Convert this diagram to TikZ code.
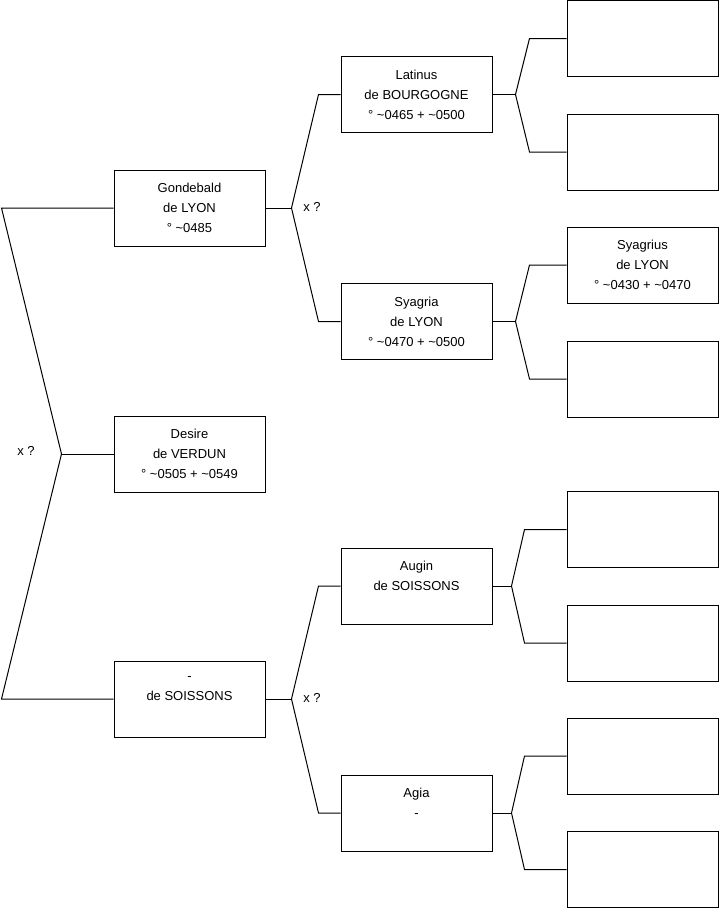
\documentclass[tikz,border=0pt]{standalone}
\usepackage{fontspec}
\setmainfont{Liberation Sans}
\usetikzlibrary{positioning, calc}

\begin{document}
\begin{tikzpicture}[x=1pt, y=-1pt,
  person/.style={rectangle,draw,line width=1pt,minimum width=151pt,
                 minimum height=76pt,inner sep=0pt,align=center,
                 font=\fontsize{13}{20}\selectfont},
  link/.style={line width=1pt},
  xq/.style={inner sep=0pt,font=\fontsize{13}{20}\selectfont}
]
\useasboundingbox (0,0) rectangle (719,908);

\node[person] (gond) at (189.5,208) {Gondebald\\ de LYON\\ ° \textasciitilde 0485};
\node[person] (des)  at (189.5,454) {Desire\\ de VERDUN\\ ° \textasciitilde 0505 + \textasciitilde 0549};
\node[person] (soi)  at (189.5,699) {-\\ de SOISSONS\\ \mbox{}};

\node[person] (lat) at (416.5,94.5)  {Latinus\\ de BOURGOGNE\\ ° \textasciitilde 0465 + \textasciitilde 0500};
\node[person] (sya) at (416.5,321.5) {Syagria\\ de LYON\\ ° \textasciitilde 0470 + \textasciitilde 0500};
\node[person] (aug) at (416.5,586)   {Augin\\ de SOISSONS\\ \mbox{}};
\node[person] (agi) at (416.5,813)   {Agia\\ -\\ \mbox{}};

\node[person] (lat1) at (642.5,38.5) {};
\node[person] (lat2) at (642.5,152)  {};
\node[person] (sya1) at (642.5,265)  {Syagrius\\ de LYON\\ ° \textasciitilde 0430 + \textasciitilde 0470};
\node[person] (sya2) at (642.5,379)  {};
\node[person] (aug1) at (642.5,529.5) {};
\node[person] (aug2) at (642.5,643)  {};
\node[person] (agi1) at (642.5,756)  {};
\node[person] (agi2) at (642.5,869.5) {};

\node[xq] (xdes)  at (26,451)  {x ?};
\node[xq] (xgond) at (312,207) {x ?};
\node[xq] (xsoi)  at (312,698) {x ?};

\coordinate (vdes)  at ($(des.west)+(-52,0)$);
\coordinate (vgond) at ($(gond.east)+(26,0)$);
\coordinate (vsoi)  at ($(soi.east)+(26,0)$);
\coordinate (vlat)  at ($(lat.east)+(23,0)$);
\coordinate (vsya)  at ($(sya.east)+(23,0)$);
\coordinate (vaug)  at ($(aug.east)+(19,0)$);
\coordinate (vagi)  at ($(agi.east)+(19,0)$);

\draw[link] (des.west) -- (vdes);
\draw[link] (vdes) -- ([xshift=-112pt]gond.west) -- (gond.west);
\draw[link] (vdes) -- ([xshift=-112pt]soi.west) -- (soi.west);

\draw[link] (gond.east) -- (vgond);
\draw[link] (vgond) -- ([xshift=-22pt]lat.west) -- (lat.west);
\draw[link] (vgond) -- ([xshift=-22pt]sya.west) -- (sya.west);
\draw[link] (soi.east) -- (vsoi);
\draw[link] (vsoi) -- ([xshift=-22pt]aug.west) -- (aug.west);
\draw[link] (vsoi) -- ([xshift=-22pt]agi.west) -- (agi.west);

\draw[link] (lat.east) -- (vlat);
\draw[link] (vlat) -- ([xshift=-37pt]lat1.west) -- (lat1.west);
\draw[link] (vlat) -- ([xshift=-37pt]lat2.west) -- (lat2.west);
\draw[link] (sya.east) -- (vsya);
\draw[link] (vsya) -- ([xshift=-37pt]sya1.west) -- (sya1.west);
\draw[link] (vsya) -- ([xshift=-37pt]sya2.west) -- (sya2.west);
\draw[link] (aug.east) -- (vaug);
\draw[link] (vaug) -- ([xshift=-42pt]aug1.west) -- (aug1.west);
\draw[link] (vaug) -- ([xshift=-42pt]aug2.west) -- (aug2.west);
\draw[link] (agi.east) -- (vagi);
\draw[link] (vagi) -- ([xshift=-42pt]agi1.west) -- (agi1.west);
\draw[link] (vagi) -- ([xshift=-42pt]agi2.west) -- (agi2.west);
\end{tikzpicture}
\end{document}
